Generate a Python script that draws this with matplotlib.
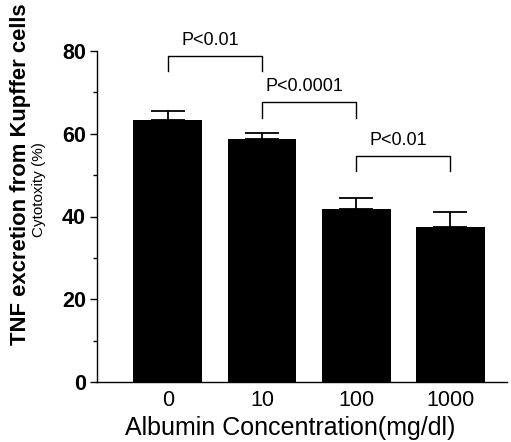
import matplotlib
matplotlib.use("Agg")
import matplotlib.pyplot as plt
from matplotlib.ticker import MultipleLocator

categories = ["0", "10", "100", "1000"]
values = [63.3, 58.8, 41.7, 37.5]
errors = [2.3, 1.3, 2.8, 3.6]
brackets = [(0, 1, 78.8, 75.1, "P<0.01"),
            (1, 2, 67.7, 63.8, "P<0.0001"),
            (2, 3, 54.6, 50.9, "P<0.01")]

plt.rcParams['font.family'] = ['Liberation Sans', 'DejaVu Sans']

fig = plt.figure(figsize=(5.11, 4.42), dpi=100)
ax = fig.add_axes([97/511, 60/442, (507-97)/511, 331/442])

x = list(range(len(categories)))
ax.bar(x, values, width=0.73, color='black', zorder=2)
ax.errorbar(x, values, yerr=[[0]*len(errors), errors], fmt='none',
            ecolor='black', elinewidth=1.3, capsize=12, capthick=1.3, zorder=1)

for i, j, ytop, yleg, label in brackets:
    ax.plot([i, i, j, j], [yleg, ytop, ytop, yleg], color='black', lw=1.0,
            clip_on=False)
    ax.text((i + j) / 2 - 0.05, ytop + 1.6, label, ha='center', va='bottom',
            fontsize=13, clip_on=False)

ax.set_xlim(-0.75, 3.6)
ax.set_ylim(0, 80)
ax.set_xticks(x)
ax.set_xticklabels(categories, fontsize=15.5)
ax.set_yticks([0, 20, 40, 60, 80])
ax.set_yticklabels(["0", "20", "40", "60", "80"], fontsize=15.5, fontweight='bold')
ax.yaxis.set_minor_locator(MultipleLocator(10))
ax.tick_params(axis='y', which='major', length=5, width=1, direction='out', pad=3)
ax.tick_params(axis='y', which='minor', length=3, width=1, direction='out')
ax.tick_params(axis='x', length=0, pad=6)
for s in ['top', 'right']:
    ax.spines[s].set_visible(False)
for s in ['left', 'bottom']:
    ax.spines[s].set_linewidth(1.0)

fig.text(290/511, 1 - 428/442, "Albumin Concentration(mg/dl)",
         ha='center', va='center', fontsize=18)

fig.text(21/511, 1 - 174/442, "TNF excretion from Kupffer cells", rotation=90,
         ha='center', va='center', fontsize=15.8, fontweight='bold')
fig.text(39/511, 1 - 190/442, "Cytotoxity (%)", rotation=90,
         ha='center', va='center', fontsize=11)

fig.savefig("out.png", dpi=100)
